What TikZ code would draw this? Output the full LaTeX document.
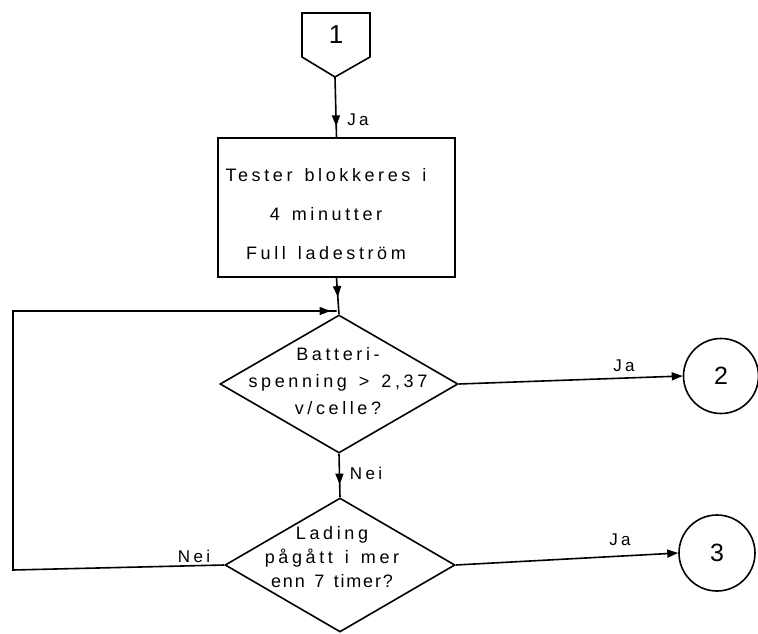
\documentclass[tikz,border=0pt]{standalone}
\usepackage{fontspec}
\setmainfont{Liberation Sans}[LetterSpace=20, WordSpace=1.4]
\usetikzlibrary{shapes.geometric,arrows.meta,decorations.markings}
\begin{document}
\begin{tikzpicture}[x=1pt,y=-1pt,line width=1.6pt,
  every node/.style={font=\fontsize{17}{20}\selectfont, inner sep=0pt},
  tipstyle/.style={-{Triangle[length=11pt,width=8pt]}},
  midarrow/.style={postaction={decorate},decoration={markings,mark=at position #1 with {\arrow{Triangle[length=11pt,width=8pt]}}}},
  dia/.style={draw, shape=diamond, inner sep=0pt},
  conn/.style={draw, circle, inner sep=0pt, font=\fontsize{25}{27}\selectfont},
  lbl/.style={font=\fontsize{17}{20}\selectfont}
]
\useasboundingbox (0,0) rectangle (758,634);
% entry connector 1
\draw (302,13) -- (370,13) -- (370,57) -- (335,77) -- (302,57) -- cycle;
\coordinate (p1) at (335,77);
\node[font=\fontsize{26}{28}\selectfont] (n1) at (336,35) {1};
% box
\node[draw, minimum width=237pt, minimum height=139pt] (box) at (336.5,207.5) {};
\node[align=center, font=\fontsize{18}{39}\selectfont] (boxtext) at (326,214)
  {Tester blokkeres i\\4 minutter\\Full ladeström};
% decision 1
\node[dia, minimum width=238pt, minimum height=138pt] (d1) at (339,384) {};
\node[align=center, font=\fontsize{18}{27}\selectfont] (d1text) at (338,381)
  {Batteri-\\spenning > 2,37\\v/celle?};
% decision 2
\node[dia, minimum width=230pt, minimum height=134pt] (d2) at (340,565) {};
\node[align=center, font=\fontsize{18}{24}\selectfont] (d2text) at (332,557)
  {Lading\\pågått i mer\\{\addfontfeatures{LetterSpace=10}enn 7 timer?}};
% exit connectors
\node[conn, minimum size=75pt] (c2) at (721,376) {2};
\node[conn, minimum size=76pt] (c3) at (717,553) {3};
% connectors
\draw[midarrow=0.82] (p1) -- (box.north);
\draw[midarrow=0.53] (box.south) -- (d1.north);
\draw[midarrow=0.71] (d1.south) -- (d2.north);
\draw[tipstyle] (d1.east) -- (c2.west);
\draw[tipstyle] (d2.east) -- (c3.west);
\coordinate (lb) at (13,570);
\coordinate (lt) at (13,311);
\coordinate (jn) at (box.south |- lt);
\draw (d2.west) -- (lb) -- (lt) -- (jn);
\draw[tipstyle] (lt) -- ([xshift=-6pt]jn);
% labels
\node[lbl] (ja1) at (358,120) {Ja};
\node[lbl] (nei1) at (366,473) {Nei};
\node[lbl] (ja2) at (624,366) {Ja};
\node[lbl] (ja3) at (620,540) {Ja};
\node[lbl] (nei2) at (194,556) {Nei};
\end{tikzpicture}
\end{document}
